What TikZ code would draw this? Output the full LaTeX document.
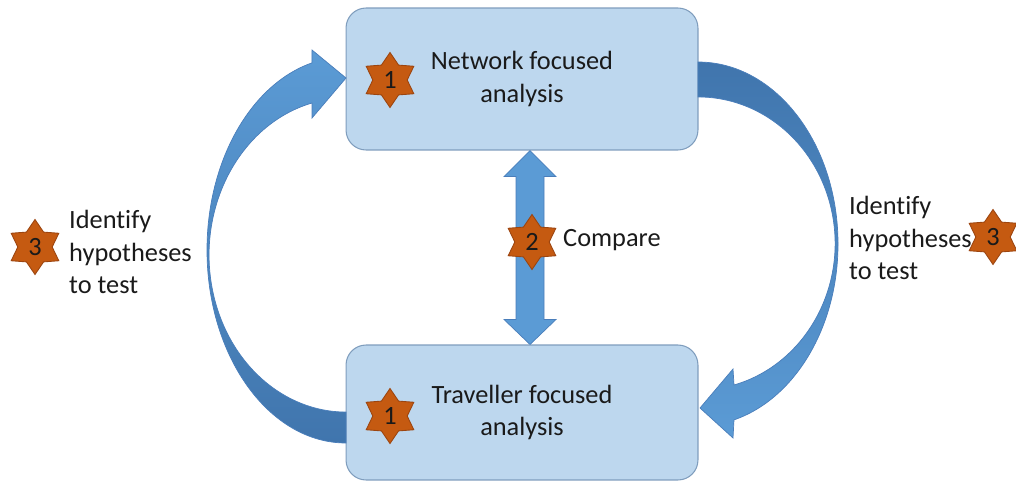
\documentclass[tikz,border=0pt]{standalone}
\usepackage{fontspec}
\setmainfont{Carlito}[Ligatures=NoCommon]
\usetikzlibrary{shapes.geometric, calc}
\definecolor{BoxFill}{HTML}{BDD7EE}
\definecolor{BoxLine}{HTML}{7F9DBD}
\definecolor{ArrowLight}{HTML}{5B9BD5}
\definecolor{ArrowDark}{HTML}{4075AD}
\definecolor{ArrowLine}{HTML}{4A7EBB}
\definecolor{StarFill}{HTML}{C55A11}
\definecolor{StarLine}{HTML}{9C4510}
\definecolor{Ink}{HTML}{1A1A1A}
\tikzset{
  stagebox/.style={rectangle, rounded corners=0.4cm, draw=BoxLine, fill=BoxFill,
                   line width=0.6pt, minimum width=7.04cm, minimum height=#1,
                   font=\fontsize{15}{18.6}\selectfont, text=Ink, align=center},
  stepstar/.style={star, star points=6, star point ratio=1.6, draw=StarLine,
                   fill=StarFill, line width=0.5pt, minimum size=1.1cm,
                   inner sep=0pt, font=\fontsize{15}{18}\selectfont, text=Ink},
  notetext/.style={font=\fontsize{15}{18.4}\selectfont, text=Ink,
                   align=left, anchor=west},
}

\begin{document}
\begin{tikzpicture}[
        x=0.02cm, y=0.02cm,
        bandarrow/.style={draw=ArrowLine, line width=0.4pt},
        flatarrow/.style={fill=ArrowLight, draw=ArrowLine, line width=0.4pt}
      ]
        \useasboundingbox (0,0) rectangle (1016,-483);
        \node[stagebox=2.84cm] (net) at (522,-79) {Network focused\\analysis};
        \node[stagebox=2.7cm] (trav) at (522,-412.5) {Traveller focused\\analysis};
        \coordinate (ctop) at ($(net.south)+(8,0)$);
        \coordinate (cbot) at ($(trav.north)+(8,0)$);
        \path[flatarrow] (ctop) -- ++(26,-26) -- ++(-12,0) -- ($(cbot)+(14,25)$)
          -- ++(12,0) -- (cbot) -- ++(-26,25) -- ++(12,0)
          -- ($(ctop)+(-14,-26)$) -- ++(-12,0) -- cycle;
        \path[bandarrow, top color=ArrowLight, bottom color=ArrowDark]
          (346,-443) arc[start angle=270, end angle=104.2, x radius=139, y radius=193]
          -- (312,-50) -- (346,-78) -- (312,-118) -- (312,-103)
          arc[start angle=104.4, end angle=270, x radius=137, y radius=157] -- cycle;
        \path[bandarrow, top color=ArrowDark, bottom color=ArrowLight]
          (698,-62) arc[start angle=90, end angle=-75.1, x radius=140, y radius=182]
          -- (733,-438) -- (700,-408) -- (733,-369) -- (734,-385)
          arc[start angle=-74.8, end angle=90, x radius=137, y radius=146.6] -- cycle;
        \node[stepstar] (s1a) at (390,-80) {1};
        \node[stepstar] (s1b) at (390,-416) {1};
        \node[stepstar] (s2) at (532,-242) {2};
        \node[stepstar] (s3l) at (35,-247) {3};
        \node[stepstar] (s3r) at (993,-237) {3};
        \node[notetext] (cmp) at (557,-240) {Compare};
        \node[notetext] (hypl) at (63,-252) {Identify\\hypotheses\\to test};
        \node[notetext] (hypr) at (843,-238) {Identify\\hypotheses\\to test};
      \end{tikzpicture}
\end{document}
